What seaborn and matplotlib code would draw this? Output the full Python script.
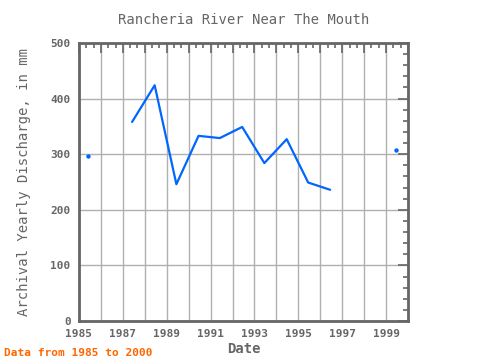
import numpy as np
import pandas as pd
import matplotlib
matplotlib.use("Agg")
import matplotlib.pyplot as plt
import seaborn as sns
from matplotlib.ticker import MultipleLocator

# yearly values (NaN = missing year)
years = [1985.42, 1986.45, 1987.42, 1988.45, 1989.44, 1990.45, 1991.42, 1992.44,
         1993.45, 1994.47, 1995.45, 1996.45, 1997.45, 1998.45, 1999.44]
discharge = [297, np.nan, 358, 424, 246, 333, 329, 349,
             284, 327, 249, 236, np.nan, np.nan, 308]

GRAY = "#666666"
BLUE = "#0066ff"

df = pd.DataFrame({"date": years, "value": discharge})
df["segment"] = df["value"].isna().cumsum()
valid = df.dropna(subset=["value"])
seg_size = valid.groupby("segment")["value"].transform("size")
lines = valid[seg_size > 1]
dots = valid[seg_size == 1]

sns.set_style("white")
plt.rcParams["font.family"] = ["DejaVu Sans Mono"]

fig = plt.figure(figsize=(4.8, 3.6), dpi=100)
ax = fig.add_axes([79 / 480, 1 - 321 / 360, 329 / 480, 278 / 360])

sns.lineplot(data=lines, x="date", y="value", units="segment", estimator=None,
             color=BLUE, linewidth=1.6, ax=ax)
sns.scatterplot(data=dots, x="date", y="value", color=BLUE, s=10,
                edgecolor=BLUE, linewidth=0, ax=ax, zorder=3)

ax.set_xlim(1985, 2000)
ax.set_ylim(0, 500)
ax.xaxis.set_minor_locator(MultipleLocator(1 / 3))
ax.yaxis.set_major_locator(MultipleLocator(100))
ax.yaxis.set_minor_locator(MultipleLocator(20))
ax.set_xticks(np.arange(1985, 2001, 1))
ax.set_xticklabels([str(y) if (y - 1985) % 2 == 0 and y < 2000 else "" for y in range(1985, 2001)])
ax.grid(True, which="major", color="#b0b0b0", linewidth=1)
ax.tick_params(which="both", direction="in", top=True, right=True, colors=GRAY,
               labelcolor=GRAY, labelsize=8)
ax.tick_params(which="major", length=7, width=1.2, pad=6)
ax.tick_params(which="minor", length=3.5, width=1.2)
for lab in ax.get_xticklabels() + ax.get_yticklabels():
    lab.set_fontweight("bold")
for s in ax.spines.values():
    s.set_color(GRAY)
    s.set_linewidth(2)

ax.set_xlabel("Date", color=GRAY, fontsize=10, fontweight="bold", labelpad=2)
ax.set_ylabel("Archival Yearly Discharge, in mm", color=GRAY, fontsize=10,
              labelpad=14)
ax.set_title("Rancheria River Near The Mouth", color=GRAY, fontsize=10, pad=14)
fig.text(0.008, 0.012, "Data from 1985 to 2000", color="#ff6600", fontsize=8,
         fontweight="bold")

fig.savefig("out.png", dpi=100)
